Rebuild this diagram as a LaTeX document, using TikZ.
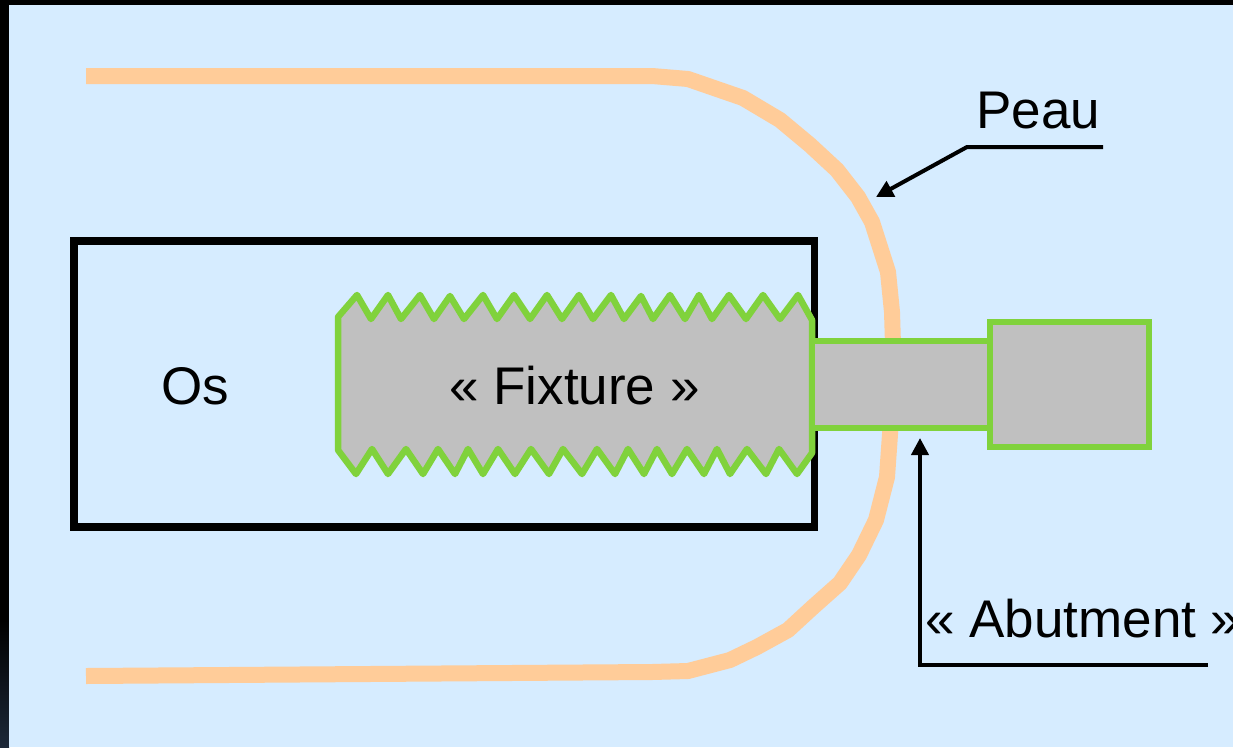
\documentclass[tikz,border=0pt]{standalone}
\usepackage{fontspec}
\setmainfont{Liberation Sans}
\usetikzlibrary{arrows.meta}
\definecolor{sky}{HTML}{D6ECFF}
\definecolor{peach}{HTML}{FFCC99}
\definecolor{implant}{HTML}{80D23C}
\definecolor{metal}{HTML}{C0C0C0}
\definecolor{corner}{HTML}{1C2838}
\tikzset{
part/.style={shape=rectangle, draw=implant, fill=metal, line width=6pt, inner sep=0},
bone/.style={shape=rectangle, draw=black, line width=7.6pt, inner sep=0},
skin/.style={draw=peach, line width=16pt, line join=round},
thread/.style={draw=implant, fill=metal, line width=6.5pt, line join=round},
leader/.style={draw=black, line width=4pt, line join=miter, -{Triangle[length=17pt, width=17pt]}},
caption/.style={anchor=base west, inner sep=0, font=\fontsize{53}{60}\selectfont}}
\begin{document}
\begin{tikzpicture}[x=1pt, y=-1pt]
\useasboundingbox (0,0) rectangle (1233,747);
\fill [black] (0,0) rectangle (1233,747);
\shade [top color=black, bottom color=corner] (0,620) rectangle (9,747);
\fill [sky] (9,5) rectangle (1233,747);

% skin, passes behind the abutment
\draw [skin] (86,76) -- (652,76) -- (688,79) -- (743,98) -- (780,120) -- (810,145) -- (837,170)
  -- (858,197) -- (872,222) -- (888,272) -- (892,312) -- (893,345);
\draw [skin] (891,420) -- (887,477) -- (876,520) -- (859,555) -- (840,583) -- (813,607)
  -- (788,630) -- (757,647) -- (730,660) -- (688,671) -- (652,672) -- (86,676);

\node [bone, minimum width=740.5pt, minimum height=286pt] at (444.25,384) (os-box) {};
\node [caption] at (161,404) (os) {Os};

% fixture with its threads
\draw [thread] (338,317) -- (357,295) -- (371,319) -- (388,295) -- (401,319) -- (420,295)
  -- (434,319) -- (450,296) -- (464,319) -- (483,295) -- (497,319) -- (514,295) -- (530,319)
  -- (547,295) -- (562,319) -- (579,295) -- (593,319) -- (611,295) -- (624,319) -- (641,296)
  -- (653,319) -- (670,295) -- (685,319) -- (699,295) -- (712,319) -- (729,295) -- (746,319)
  -- (763,295) -- (780,319) -- (798,295) -- (812,320)
  -- (812,453) -- (797,474) -- (779,449) -- (766,474) -- (747,449) -- (730,474) -- (717,449)
  -- (704,474) -- (687,449) -- (672,474) -- (657,449) -- (644,474) -- (628,449) -- (615,474)
  -- (597,449) -- (582,474) -- (563,449) -- (549,474) -- (531,449) -- (515,474) -- (498,449)
  -- (483,474) -- (468,449) -- (455,474) -- (438,449) -- (423,474) -- (406,449) -- (388,474)
  -- (372,449) -- (356,474) -- (338,450) -- cycle;
\node [caption] at (449,404) (fixture) {« Fixture »};

\node [part, minimum width=178pt, minimum height=87pt] at (901,384.5) (neck) {};
\node [part, minimum width=159pt, minimum height=125pt] at (1069.5,384.5) (head) {};

\node [caption] at (976,128) (peau) {Peau};
\coordinate (peau-end) at (1103,147);
\coordinate (peau-bend) at (967,147);
\coordinate (peau-tip) at (876,197);
\draw [leader] (peau-end) -- (peau-bend) -- (peau-tip);

\node [caption] at (925,637) (abutment) {« Abutment »};
\coordinate (abut-end) at (1208,665);
\coordinate (abut-bend) at (920,665);
\coordinate (abut-tip) at (920,438);
\draw [leader] (abut-end) -- (abut-bend) -- (abut-tip);
\end{tikzpicture}
\end{document}
